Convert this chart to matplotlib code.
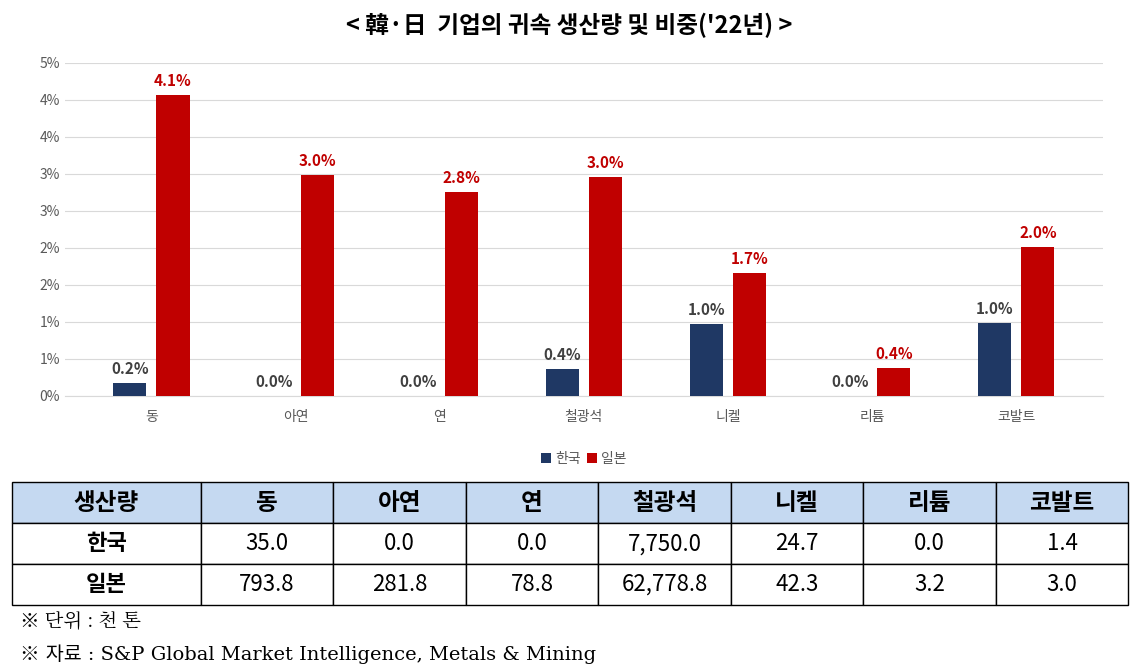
import matplotlib.pyplot as plt
from matplotlib.ticker import FuncFormatter
from decimal import Decimal, ROUND_HALF_UP
import numpy as np

plt.rcParams['font.family'] = ['Noto Sans CJK KR', 'DejaVu Sans']

metals = ['동', '아연', '연', '철광석', '니켈', '리튬', '코발트']
korea_share = [0.18, 0.0, 0.0, 0.36, 0.97, 0.0, 0.99]
japan_share = [4.07, 2.99, 2.76, 2.96, 1.66, 0.38, 2.01]

table_header = ['생산량'] + metals
korea_prod = ['35.0', '0.0', '0.0', '7,750.0', '24.7', '0.0', '1.4']
japan_prod = ['793.8', '281.8', '78.8', '62,778.8', '42.3', '3.2', '3.0']

navy = '#1f3864'
red = '#c00000'

fig = plt.figure(figsize=(11.38, 6.70), dpi=100)
fig.text(0.5, 0.962, "< 韓·日  기업의 귀속 생산량 및 비중('22년) >", ha='center', va='center',
         fontsize=17, fontweight='bold')

ax = fig.add_axes([0.057, 0.409, 0.912, 0.497])
x = np.arange(len(metals))
w = 0.23
gap = 0.035
ax.bar(x - w / 2 - gap, korea_share, w, color=navy, label='한국', zorder=3)
ax.bar(x + w / 2 + gap, japan_share, w, color=red, label='일본', zorder=3)
for i in range(len(metals)):
    ax.text(x[i] - w / 2 - gap, korea_share[i] + 0.08, f'{korea_share[i]:.1f}%', ha='center', va='bottom',
            fontsize=11, fontweight='bold', color='#404040')
    ax.text(x[i] + w / 2 + gap, japan_share[i] + 0.08, f'{japan_share[i]:.1f}%', ha='center', va='bottom',
            fontsize=11, fontweight='bold', color=red)

ax.set_ylim(0, 4.5)
ax.set_yticks(np.arange(0, 4.51, 0.5))
ax.yaxis.set_major_formatter(FuncFormatter(
    lambda v, p: f'{Decimal(str(round(v, 2))).quantize(Decimal("1"), rounding=ROUND_HALF_UP)}%'))
ax.set_xlim(-0.6, len(metals) - 0.4)
ax.set_xticks(x)
ax.set_xticklabels(metals)
ax.tick_params(length=0, labelsize=10, colors='#595959')
ax.tick_params(axis='x', pad=10)
ax.grid(axis='y', color='#d9d9d9', zorder=0)
for s in ['top', 'right', 'left']:
    ax.spines[s].set_visible(False)
ax.spines['bottom'].set_color('#d9d9d9')
ax.legend(loc='upper center', bbox_to_anchor=(0.5, -0.13), ncol=2, frameon=False, fontsize=10,
          handlelength=0.7, handleheight=0.7, columnspacing=0.5, handletextpad=0.3,
          labelcolor='#595959')

tax = fig.add_axes([0.0105, 0.097, 0.981, 0.183])
tax.axis('off')
tbl = tax.table(cellText=[['한국'] + korea_prod, ['일본'] + japan_prod], colLabels=table_header,
                cellLoc='center', bbox=[0, 0, 1, 1],
                colWidths=[0.169] + [0.1187] * 7)
tbl.auto_set_font_size(False)
for (r, c), cell in tbl.get_celld().items():
    cell.set_edgecolor('black')
    cell.set_linewidth(1)
    if r == 0:
        cell.set_facecolor('#c5d9f1')
        cell.get_text().set_fontsize(17)
        cell.get_text().set_fontweight('bold')
    else:
        cell.get_text().set_fontsize(16)
        if c == 0:
            cell.get_text().set_fontweight('bold')

fig.text(0.018, 0.072, '※ 단위 : 천 톤', fontsize=14, va='center', family=['Noto Serif CJK KR', 'Noto Sans CJK KR', 'DejaVu Serif'])
fig.text(0.018, 0.024, '※ 자료 : S&P Global Market Intelligence, Metals & Mining', fontsize=14, va='center',
         family=['DejaVu Serif', 'Noto Sans CJK KR'])

fig.savefig('out.png', dpi=100)
